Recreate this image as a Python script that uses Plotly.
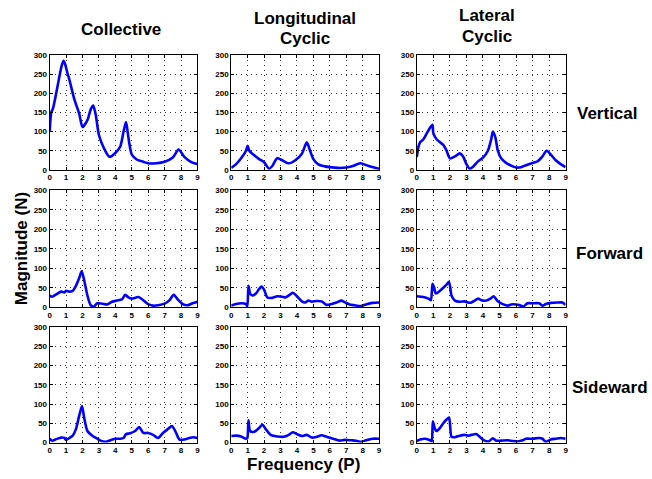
import plotly.graph_objects as go

# Frequency-response magnitudes (N) versus frequency (per rev), one curve per panel
freq_cv = [0, 0.1, 0.2, 0.4, 0.6, 0.75, 0.85, 0.95, 1.1, 1.2, 1.5, 1.8, 2.0, 2.3, 2.5, 2.65, 2.8, 3.0, 3.3,
           3.65, 4.0, 4.3, 4.5, 4.65, 4.8, 5.0, 5.3, 5.7, 6.0, 6.5, 7.0, 7.5, 7.85, 8.2, 8.6, 9.0]
mag_cv = [100, 150, 160, 200, 245, 275, 285, 275, 250, 236, 185, 147, 112, 130, 158, 168, 145, 91, 57,
          34, 44, 61, 100, 125, 83, 40, 27, 21, 17, 17, 21, 32, 53, 34, 21, 15]

freq_lv = [0, 0.3, 0.6, 0.9, 1.0, 1.1, 1.4, 1.7, 2.0, 2.3, 2.5, 2.8, 3.1, 3.5, 3.9, 4.3, 4.6, 4.8, 5.0,
           5.3, 5.7, 6.0, 6.5, 7.0, 7.4, 7.85, 8.3, 8.7, 9.0]
mag_lv = [5, 15, 30, 50, 63, 50, 38, 28, 20, 3, 10, 30, 25, 17, 25, 42, 72, 50, 28,
          14, 9, 7, 5, 6, 10, 17, 11, 6, 3]

freq_av = [0, 0.1, 0.2, 0.4, 0.6, 0.8, 0.95, 1.0, 1.2, 1.4, 1.6, 1.8, 2.0, 2.3, 2.6, 2.8, 3.0, 3.2, 3.4,
           3.7, 4.0, 4.3, 4.5, 4.6, 4.75, 4.9, 5.1, 5.4, 5.8, 6.0, 6.3, 6.6, 7.0, 7.3, 7.6, 7.85, 8.1,
           8.4, 8.7, 9.0]
mag_av = [33, 60, 72, 80, 95, 110, 118, 95, 80, 72, 65, 50, 30, 35, 43, 35, 15, 3, 8,
          22, 32, 50, 80, 100, 85, 50, 30, 18, 9, 6, 7, 12, 18, 22, 35, 50, 40,
          25, 15, 7]

freq_cf = [0, 0.15, 0.4, 0.7, 0.9, 1.0, 1.2, 1.4, 1.6, 1.8, 1.95, 2.1, 2.3, 2.5, 2.7, 2.9, 3.2, 3.5,
           3.8, 4.1, 4.4, 4.6, 4.8, 5.0, 5.4, 5.7, 6.0, 6.3, 6.6, 7.0, 7.3, 7.55, 7.8, 8.1, 8.4, 8.7, 9.0]
mag_cf = [30, 27, 33, 40, 38, 42, 40, 42, 55, 75, 92, 70, 30, 5, 2, 10, 9, 7,
          14, 17, 20, 32, 25, 22, 26, 18, 8, 4, 5, 9, 18, 32, 20, 8, 5, 10, 14]

freq_lf = [0, 0.3, 0.6, 0.9, 0.98, 1.05, 1.15, 1.3, 1.5, 1.7, 1.85, 2.0, 2.2, 2.5, 2.8, 3.1, 3.3, 3.6,
           3.75, 4.0, 4.3, 4.5, 4.7, 4.9, 5.2, 5.5, 5.8, 6.1, 6.4, 6.7, 6.9, 7.2, 7.5, 7.9, 8.2, 8.6, 9.0]
mag_lf = [4, 8, 10, 8, 2, 55, 35, 30, 35, 47, 53, 45, 25, 24, 28, 27, 25, 33,
          37, 28, 15, 12, 17, 14, 16, 15, 6, 8, 12, 17, 13, 7, 5, 3, 7, 11, 12]

freq_af = [0, 0.4, 0.7, 0.85, 0.95, 1.05, 1.15, 1.4, 1.6, 1.8, 1.95, 2.1, 2.3, 2.6, 2.9, 3.1, 3.3,
           3.5, 3.7, 3.9, 4.2, 4.45, 4.65, 4.9, 5.2, 5.5, 5.7, 6.0, 6.3, 6.45, 6.7, 7.0, 7.4, 7.6, 7.8,
           8.1, 8.5, 8.8, 9.0]
mag_af = [28, 26, 22, 18, 60, 50, 35, 42, 50, 58, 65, 30, 17, 14, 15, 12, 12,
          17, 22, 18, 17, 22, 28, 15, 8, 4, 7, 7, 4, 2, 10, 10, 10, 4, 8,
          11, 12, 12, 6]

freq_cs = [0, 0.15, 0.4, 0.7, 0.9, 1.0, 1.2, 1.4, 1.6, 1.8, 1.97, 2.1, 2.3, 2.6, 2.9, 3.1, 3.4, 3.7,
           4.0, 4.3, 4.5, 4.65, 4.9, 5.2, 5.45, 5.7, 6.0, 6.3, 6.6, 6.9, 7.2, 7.45, 7.7, 7.9, 8.2, 8.5,
           8.75, 9.0]
mag_cs = [10, 5, 9, 13, 12, 7, 12, 18, 35, 70, 95, 65, 30, 18, 10, 5, 2, 6,
          10, 10, 12, 22, 24, 30, 40, 25, 25, 20, 12, 25, 35, 43, 25, 8, 8, 12,
          14, 12]

freq_ls = [0, 0.3, 0.6, 0.9, 0.98, 1.05, 1.15, 1.4, 1.7, 1.9, 2.1, 2.4, 2.8, 3.2, 3.5, 3.75, 4.0, 4.3,
           4.6, 4.9, 5.2, 5.5, 5.8, 6.2, 6.6, 6.9, 7.3, 7.6, 7.9, 8.2, 8.6, 9.0]
mag_ls = [17, 18, 16, 10, 12, 58, 30, 28, 38, 47, 35, 20, 16, 15, 20, 27, 22, 17,
          20, 13, 15, 19, 15, 10, 5, 7, 6, 5, 2, 6, 10, 10]

freq_as = [0, 0.2, 0.5, 0.8, 0.9, 0.97, 1.1, 1.2, 1.4, 1.6, 1.8, 1.95, 2.1, 2.3, 2.6, 2.9, 3.1, 3.3,
           3.6, 3.8, 4.1, 4.35, 4.6, 4.8, 5.1, 5.5, 5.8, 6.1, 6.4, 6.6, 7.0, 7.4, 7.6, 7.8, 8.1, 8.4,
           8.7, 9.0]
mag_as = [4, 8, 10, 6, 3, 55, 35, 30, 38, 50, 60, 65, 15, 14, 18, 20, 18, 20,
          22, 15, 5, 3, 11, 5, 5, 6, 4, 3, 6, 10, 10, 12, 10, 2, 8, 10,
          12, 10]

x_ticks = list(range(0, 10))
y_ticks = list(range(0, 301, 50))

panels = [
    [(freq_cv, mag_cv), (freq_lv, mag_lv), (freq_av, mag_av)],
    [(freq_cf, mag_cf), (freq_lf, mag_lf), (freq_af, mag_af)],
    [(freq_cs, mag_cs), (freq_ls, mag_ls), (freq_as, mag_as)],
]

W, H = 652, 479
col_px = [(48, 197), (231, 380), (418, 568)]
row_px = [(52, 169), (190, 309), (329, 447)]

FONT = "Liberation Sans, Arial, Helvetica, sans-serif"

fig = go.Figure()
layout = dict(
    width=W, height=H,
    margin=dict(l=0, r=0, t=0, b=0),
    paper_bgcolor="white", plot_bgcolor="white",
    showlegend=False,
    font=dict(family=FONT, color="black"),
)

axis_common = dict(
    showline=True, linecolor="black", linewidth=1, mirror="ticks",
    ticks="inside", ticklen=3, tickcolor="black", tickwidth=1,
    showgrid=True, gridcolor="#333333", gridwidth=1, griddash="1px,4px",
    zeroline=False,
    tickfont=dict(family=FONT, size=8, color="black", weight="bold"),
)

k = 0
for r in range(3):
    for c in range(3):
        k += 1
        xs, ys = panels[r][c]
        sfx = "" if k == 1 else str(k)
        fig.add_trace(go.Scatter(
            x=xs, y=ys, mode="lines",
            line=dict(color="#0000ff", width=2.6, shape="spline", smoothing=0.7),
            xaxis="x" + sfx, yaxis="y" + sfx, hoverinfo="skip",
        ))
        x0, x1 = col_px[c]
        y0, y1 = row_px[r]
        layout["xaxis" + sfx] = dict(
            axis_common, domain=[x0 / W, x1 / W], range=[0, 9],
            tickvals=x_ticks, anchor="y" + sfx,
        )
        layout["yaxis" + sfx] = dict(
            axis_common, domain=[1 - y1 / H, 1 - y0 / H], range=[0, 300],
            tickvals=y_ticks, anchor="x" + sfx,
        )

fig.update_layout(**layout)

title_font = dict(family=FONT, size=17, color="black", weight="bold")

def add_text(text, px, py, angle=0):
    fig.add_annotation(
        text=text, x=px / W, y=1 - py / H, xref="paper", yref="paper",
        xanchor="center", yanchor="middle", showarrow=False,
        font=title_font, textangle=angle,
    )

# column headings
add_text("Collective", 120, 26)
add_text("Longitudinal", 305, 15)
add_text("Cyclic", 305, 35)
add_text("Lateral", 489, 12)
add_text("Cyclic", 489, 33)

# row headings
add_text("Vertical", 610, 112)
add_text("Forward", 612, 254)
add_text("Sideward", 613, 391)

# shared axis titles
add_text("Magnitude (N)", 19, 249, angle=-90)
add_text("Frequency (P)", 304, 469)

fig.write_html("out.html")
